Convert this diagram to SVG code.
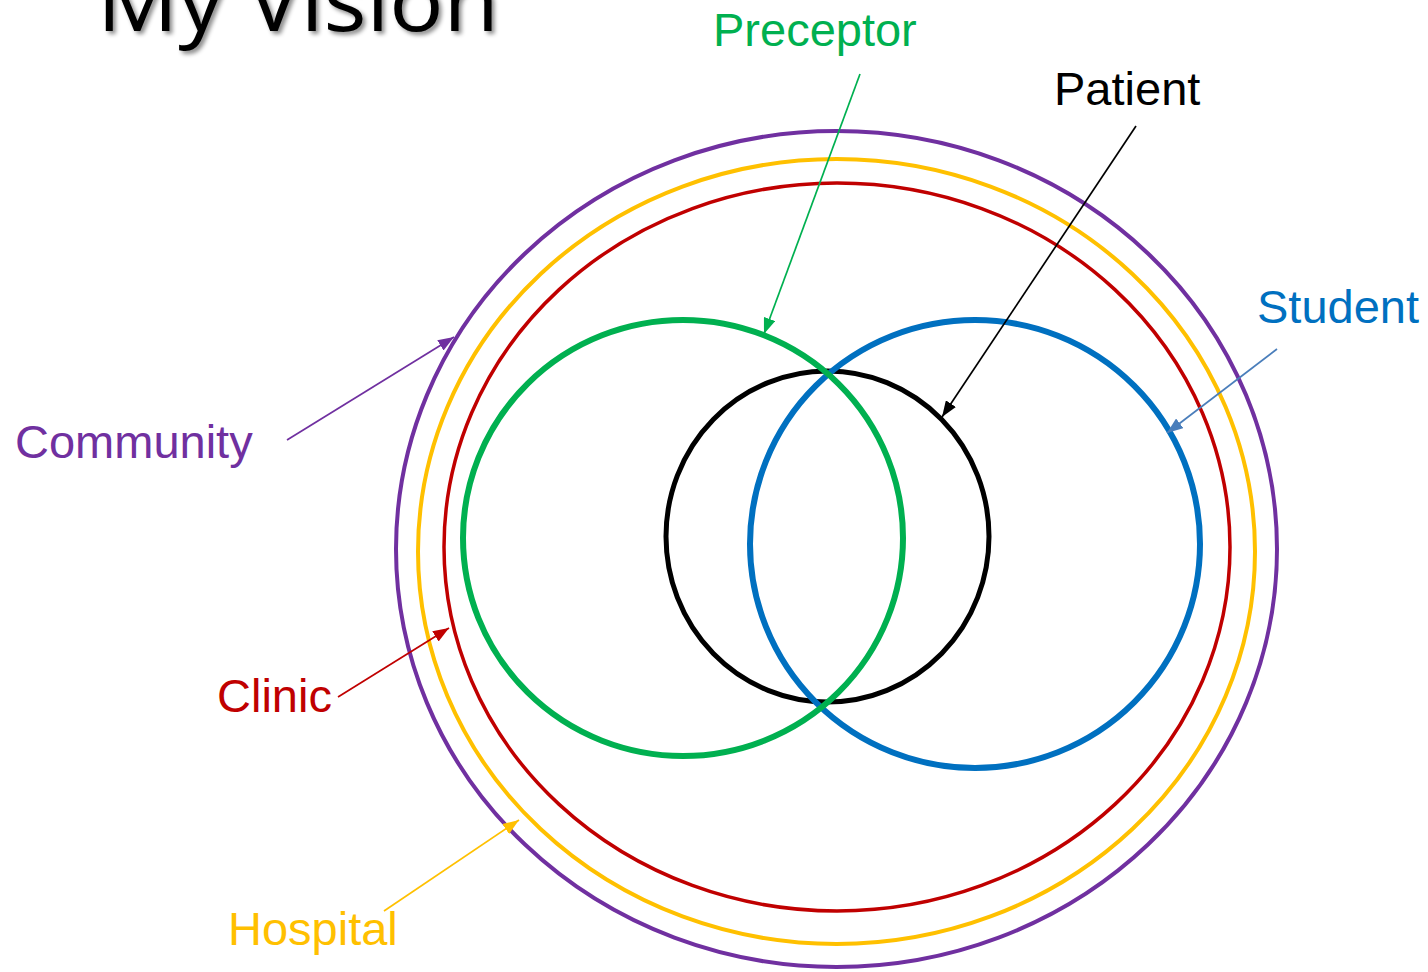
<svg xmlns="http://www.w3.org/2000/svg" width="1428" height="972" viewBox="0 0 1428 972">
  <style>
    .ring { fill: none; }
    .label { font-family: "Liberation Sans", Arial, sans-serif; font-size: 47px; }
    .lead { fill: none; stroke-width: 1.7; }
  </style>
  <defs>
    <filter id="titleShadow" x="-10%" y="-50%" width="120%" height="200%">
      <feDropShadow dx="3" dy="3" stdDeviation="2" flood-color="#000" flood-opacity="0.45"/>
    </filter>
    <marker id="ahPurple" viewBox="0 0 16 12" refX="16" refY="6" markerWidth="16" markerHeight="12" markerUnits="userSpaceOnUse" orient="auto"><path d="M0,0 L16,6 L0,12 z" fill="#7030A0"/></marker>
    <marker id="ahRed" viewBox="0 0 16 12" refX="16" refY="6" markerWidth="16" markerHeight="12" markerUnits="userSpaceOnUse" orient="auto"><path d="M0,0 L16,6 L0,12 z" fill="#C00000"/></marker>
    <marker id="ahYellow" viewBox="0 0 16 12" refX="16" refY="6" markerWidth="16" markerHeight="12" markerUnits="userSpaceOnUse" orient="auto"><path d="M0,0 L16,6 L0,12 z" fill="#FFC000"/></marker>
    <marker id="ahGreen" viewBox="0 0 16 12" refX="16" refY="6" markerWidth="16" markerHeight="12" markerUnits="userSpaceOnUse" orient="auto"><path d="M0,0 L16,6 L0,12 z" fill="#00B050"/></marker>
    <marker id="ahBlack" viewBox="0 0 16 12" refX="16" refY="6" markerWidth="16" markerHeight="12" markerUnits="userSpaceOnUse" orient="auto"><path d="M0,0 L16,6 L0,12 z" fill="#000"/></marker>
    <marker id="ahBlue" viewBox="0 0 16 12" refX="16" refY="6" markerWidth="16" markerHeight="12" markerUnits="userSpaceOnUse" orient="auto"><path d="M0,0 L16,6 L0,12 z" fill="#4A7EBB"/></marker>
  </defs>

  <rect width="1428" height="972" fill="#fff"/>

  <!-- heading -->
  <text x="97" y="31" font-family="'Open Sans', 'Liberation Sans', sans-serif" font-size="84" textLength="402" lengthAdjust="spacingAndGlyphs" fill="#000" filter="url(#titleShadow)">My Vision</text>

  <!-- setting rings -->
  <g id="community">
    <ellipse class="ring" cx="836.5" cy="549" rx="440.5" ry="418" stroke="#7030A0" stroke-width="4"/>
    <text class="label" x="15" y="458" fill="#7030A0">Community</text>
  </g>
  <g id="hospital">
    <ellipse class="ring" cx="836.5" cy="551.5" rx="418.5" ry="392.5" stroke="#FFC000" stroke-width="4"/>
    <text class="label" x="228" y="945" fill="#FFC000">Hospital</text>
  </g>
  <g id="clinic">
    <ellipse class="ring" cx="837" cy="547" rx="393" ry="364" stroke="#C00000" stroke-width="3.5"/>
    <text class="label" x="217" y="712" fill="#C00000">Clinic</text>
  </g>

  <!-- people -->
  <g id="patient">
    <ellipse class="ring" cx="827.5" cy="536.5" rx="161.5" ry="165.5" stroke="#000" stroke-width="5"/>
    <text class="label" x="1054" y="105" fill="#000">Patient</text>
  </g>
  <g id="student">
    <ellipse class="ring" cx="975" cy="544" rx="225" ry="224" stroke="#0070C0" stroke-width="6"/>
    <text class="label" x="1257" y="323" fill="#0070C0">Student</text>
  </g>
  <g id="preceptor">
    <ellipse class="ring" cx="683" cy="538" rx="220" ry="218" stroke="#00B050" stroke-width="6"/>
    <text class="label" x="713" y="46" fill="#00B050">Preceptor</text>
  </g>

  <!-- label leaders -->
  <g id="connectors">
    <line class="lead" x1="287" y1="440" x2="454" y2="337" stroke="#7030A0" marker-end="url(#ahPurple)"/>
    <line class="lead" x1="338" y1="697" x2="449" y2="628" stroke="#C00000" marker-end="url(#ahRed)"/>
    <line class="lead" x1="384" y1="911" x2="519" y2="820" stroke="#FFC000" marker-end="url(#ahYellow)"/>
    <line class="lead" x1="860" y1="74" x2="764" y2="334" stroke="#00B050" marker-end="url(#ahGreen)"/>
    <line class="lead" x1="1136" y1="126" x2="942" y2="417" stroke="#000" marker-end="url(#ahBlack)"/>
    <line class="lead" x1="1277" y1="349" x2="1167" y2="433" stroke="#4A7EBB" marker-end="url(#ahBlue)"/>
  </g>
</svg>
